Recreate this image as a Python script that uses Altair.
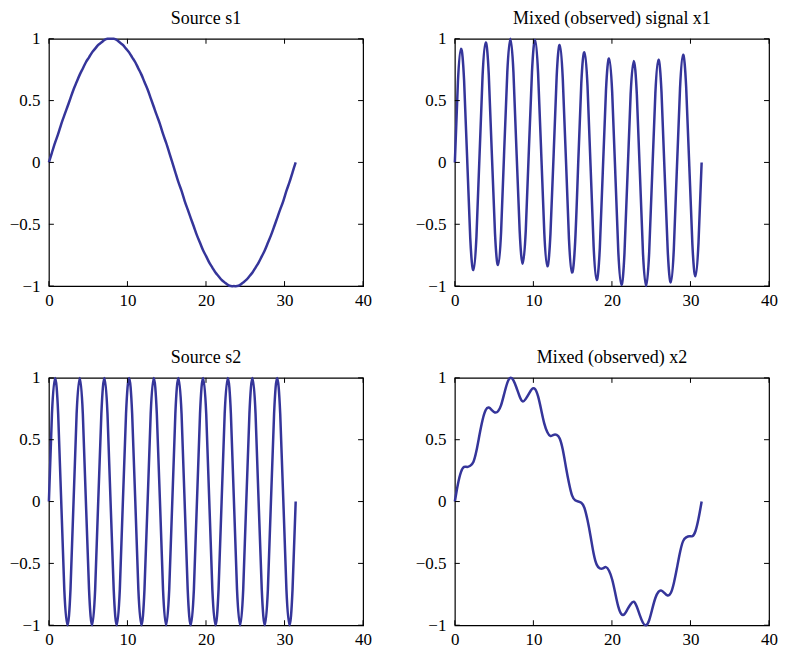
import altair as alt
import pandas as pd

# sample positions along the time axis
t = [0.00, 0.39, 0.79, 1.18, 1.57, 1.96, 2.36, 2.75, 3.14, 3.53,
     3.93, 4.32, 4.71, 5.11, 5.50, 5.89, 6.28, 6.68, 7.07, 7.46,
     7.85, 8.25, 8.64, 9.03, 9.42, 9.82, 10.21, 10.60, 11.00, 11.39,
     11.78, 12.17, 12.57, 12.96, 13.35, 13.74, 14.14, 14.53, 14.92, 15.32,
     15.71, 16.10, 16.49, 16.89, 17.28, 17.67, 18.06, 18.46, 18.85, 19.24,
     19.63, 20.03, 20.42, 20.81, 21.21, 21.60, 21.99, 22.38, 22.78, 23.17,
     23.56, 23.95, 24.35, 24.74, 25.13, 25.53, 25.92, 26.31, 26.70, 27.10,
     27.49, 27.88, 28.27, 28.67, 29.06, 29.45, 29.85, 30.24, 30.63, 31.02,
     31.42]

s1 = [0.00, 0.08, 0.16, 0.23, 0.31, 0.38, 0.45, 0.52, 0.59, 0.65,
      0.71, 0.76, 0.81, 0.85, 0.89, 0.92, 0.95, 0.97, 0.99, 1.00,
      1.00, 1.00, 0.99, 0.97, 0.95, 0.92, 0.89, 0.85, 0.81, 0.76,
      0.71, 0.65, 0.59, 0.52, 0.45, 0.38, 0.31, 0.23, 0.16, 0.08,
      0.00, -0.08, -0.16, -0.23, -0.31, -0.38, -0.45, -0.52, -0.59, -0.65,
      -0.71, -0.76, -0.81, -0.85, -0.89, -0.92, -0.95, -0.97, -0.99, -1.00,
      -1.00, -1.00, -0.99, -0.97, -0.95, -0.92, -0.89, -0.85, -0.81, -0.76,
      -0.71, -0.65, -0.59, -0.52, -0.45, -0.38, -0.31, -0.23, -0.16, -0.08,
      0.00]

s2 = [0.00, 0.71, 1.00, 0.71, 0.00, -0.71, -1.00, -0.71,
      0.00, 0.71, 1.00, 0.71, 0.00, -0.71, -1.00, -0.71,
      0.00, 0.71, 1.00, 0.71, 0.00, -0.71, -1.00, -0.71,
      0.00, 0.71, 1.00, 0.71, 0.00, -0.71, -1.00, -0.71,
      0.00, 0.71, 1.00, 0.71, 0.00, -0.71, -1.00, -0.71,
      0.00, 0.71, 1.00, 0.71, 0.00, -0.71, -1.00, -0.71,
      0.00, 0.71, 1.00, 0.71, 0.00, -0.71, -1.00, -0.71,
      0.00, 0.71, 1.00, 0.71, 0.00, -0.71, -1.00, -0.71,
      0.00, 0.71, 1.00, 0.71, 0.00, -0.71, -1.00, -0.71,
      0.00, 0.71, 1.00, 0.71, 0.00, -0.71, -1.00, -0.71,
      0.00]

x1 = [0.00, 0.65, 0.92, 0.66, 0.03, -0.61, -0.87, -0.60, 0.05, 0.70,
      0.97, 0.71, 0.07, -0.57, -0.83, -0.56, 0.09, 0.73, 1.00, 0.73,
      0.09, -0.55, -0.82, -0.55, 0.09, 0.73, 0.99, 0.72, 0.07, -0.57,
      -0.84, -0.58, 0.05, 0.69, 0.95, 0.68, 0.03, -0.62, -0.89, -0.64,
      0.00, 0.64, 0.89, 0.62, -0.03, -0.68, -0.95, -0.69, -0.05, 0.58,
      0.84, 0.57, -0.07, -0.72, -0.99, -0.73, -0.09, 0.55, 0.82, 0.55,
      -0.09, -0.73, -1.00, -0.73, -0.09, 0.56, 0.83, 0.57, -0.07, -0.71,
      -0.97, -0.70, -0.05, 0.60, 0.87, 0.61, -0.03, -0.66, -0.92, -0.65,
      0.00]

x2 = [0.00, 0.14, 0.24, 0.28, 0.28, 0.29, 0.32, 0.41, 0.54, 0.66,
      0.74, 0.76, 0.74, 0.72, 0.73, 0.78, 0.87, 0.96, 1.00, 0.98,
      0.92, 0.85, 0.81, 0.83, 0.87, 0.91, 0.91, 0.85, 0.74, 0.63,
      0.56, 0.53, 0.54, 0.54, 0.51, 0.42, 0.28, 0.15, 0.05, 0.01,
      0.00, -0.01, -0.05, -0.15, -0.28, -0.42, -0.51, -0.54, -0.54, -0.53,
      -0.56, -0.63, -0.74, -0.85, -0.91, -0.91, -0.87, -0.83, -0.81, -0.85,
      -0.92, -0.98, -1.00, -0.96, -0.87, -0.78, -0.73, -0.72, -0.74, -0.76,
      -0.74, -0.66, -0.54, -0.41, -0.32, -0.29, -0.28, -0.28, -0.24, -0.14,
      0.00]

x_ticks = [0, 10, 20, 30, 40]
y_ticks = [-1, -0.5, 0, 0.5, 1]
titles = ["Source s1", "Mixed (observed) signal x1", "Source s2", "Mixed (observed) x2"]
series = [s1, x1, s2, x2]

W, H = 315, 248
TICK = 5
LINE_COLOR = "#35359a"
FONT = "Liberation Serif"

xs = alt.Scale(domain=[0, 40], nice=False, zero=False)
ys = alt.Scale(domain=[-1, 1], nice=False, zero=False)

x_axis = alt.Axis(values=x_ticks, format=".1~f", domain=False, ticks=False, title=None,
                  grid=False, labelFont=FONT, labelFontSize=17,
                  labelColor="black", labelPadding=6, labelFlush=False)
y_axis = alt.Axis(values=y_ticks, format=".1~f", domain=False, ticks=False, title=None,
                  grid=False, labelFont=FONT, labelFontSize=17,
                  labelColor="black", labelPadding=9, labelFlush=False)


def panel(values, title):
    df = pd.DataFrame({"t": t, "v": values})
    line = alt.Chart(df).mark_line(
        color=LINE_COLOR, strokeWidth=2.5, interpolate="natural"
    ).encode(
        x=alt.X("t:Q", scale=xs, axis=x_axis, title=None),
        y=alt.Y("v:Q", scale=ys, axis=y_axis, title=None),
    )
    xt = pd.DataFrame({"p": x_ticks})
    yt = pd.DataFrame({"p": y_ticks})
    rule = dict(color="black", strokeWidth=1)
    bottom = alt.Chart(xt).mark_rule(**rule).encode(
        x=alt.X("p:Q", scale=xs, axis=x_axis, title=None), y=alt.value(H), y2=alt.value(H - TICK))
    top = alt.Chart(xt).mark_rule(**rule).encode(
        x=alt.X("p:Q", scale=xs, axis=x_axis, title=None), y=alt.value(0), y2=alt.value(TICK))
    left = alt.Chart(yt).mark_rule(**rule).encode(
        y=alt.Y("p:Q", scale=ys, axis=y_axis, title=None), x=alt.value(0), x2=alt.value(TICK))
    right = alt.Chart(yt).mark_rule(**rule).encode(
        y=alt.Y("p:Q", scale=ys, axis=y_axis, title=None), x=alt.value(W), x2=alt.value(W - TICK))
    return alt.layer(line, bottom, top, left, right).properties(
        width=W, height=H,
        title=alt.TitleParams(title, font=FONT, fontSize=18, fontWeight="normal",
                              color="black", offset=2, anchor="middle", frame="group"),
    )


chart = alt.concat(
    *[panel(v, ttl) for v, ttl in zip(series, titles)],
    columns=2, spacing={"row": 92, "column": 92}, bounds="flush",
).properties(
    padding=0
).configure_view(
    stroke="black", strokeWidth=1.2
).configure_axis(
    labelFont=FONT, labelFontSize=17, labelColor="black"
).configure_title(
    font=FONT, fontSize=18, fontWeight="normal", color="black"
)

chart.save("out.html", embed_options={"renderer": "svg", "actions": False})
